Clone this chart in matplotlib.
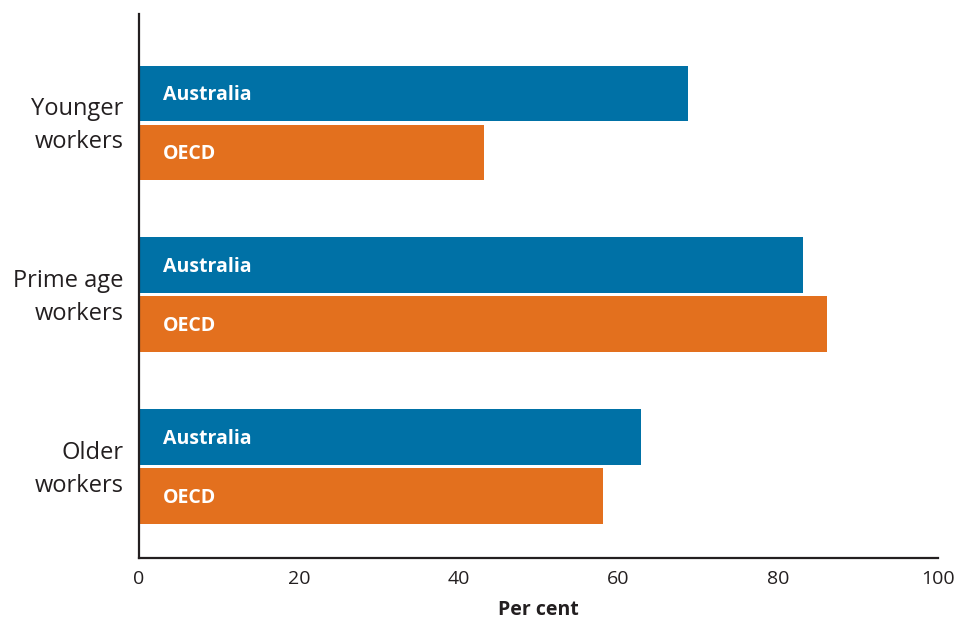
import matplotlib
matplotlib.use("Agg")
import matplotlib.pyplot as plt
import matplotlib.transforms as mtransforms
import numpy as np

categories = ["Younger\nworkers", "Prime age\nworkers", "Older\nworkers"]
series_names = ["Australia", "OECD"]
australia = [68.7, 83.1, 62.8]
oecd = [43.2, 86.1, 58.1]
xticks = [0, 20, 40, 60, 80, 100]

blue = "#0071A6"
orange = "#E3701E"
dark = "#231F20"

plt.rcParams['font.family'] = ['Open Sans', 'DejaVu Sans']

fig = plt.figure(figsize=(9.56, 6.21), dpi=100)
ax = fig.add_axes([139/956, 1-558/621, (938-139)/956, (558-14)/621])

y = np.arange(len(categories))
h = 0.32
off = 0.1715
ax.barh(y - off, australia, height=h, color=blue)
ax.barh(y + off, oecd, height=h, color=orange)

for i in range(len(categories)):
    ax.text(3, y[i] - off + 0.01, series_names[0], color="white", fontweight="bold",
            fontsize=14, va="center", ha="left")
    ax.text(3, y[i] + off + 0.01, series_names[1], color="white", fontweight="bold",
            fontsize=14, va="center", ha="left")

ax.set_xlim(0, 100)
ax.set_ylim(2.532, -0.631)
ax.set_xticks(xticks)
ax.set_xticklabels([str(t) for t in xticks], fontsize=14, color=dark)
ax.set_yticks(y)
ax.set_yticklabels(categories, fontsize=17, color=dark, linespacing=1.5)
ax.tick_params(axis="x", length=0, pad=9)
ax.tick_params(axis="y", length=0, pad=11)
shift = mtransforms.ScaledTranslation(0, 5/100, fig.dpi_scale_trans)
for lbl in ax.get_yticklabels():
    lbl.set_transform(lbl.get_transform() + shift)
for s in ["top", "right"]:
    ax.spines[s].set_visible(False)
for s in ["left", "bottom"]:
    ax.spines[s].set_color(dark)
    ax.spines[s].set_linewidth(1.6)
ax.set_xlabel("Per cent", fontsize=14, fontweight="bold", color=dark, labelpad=8)

fig.savefig("out.png", dpi=100)
